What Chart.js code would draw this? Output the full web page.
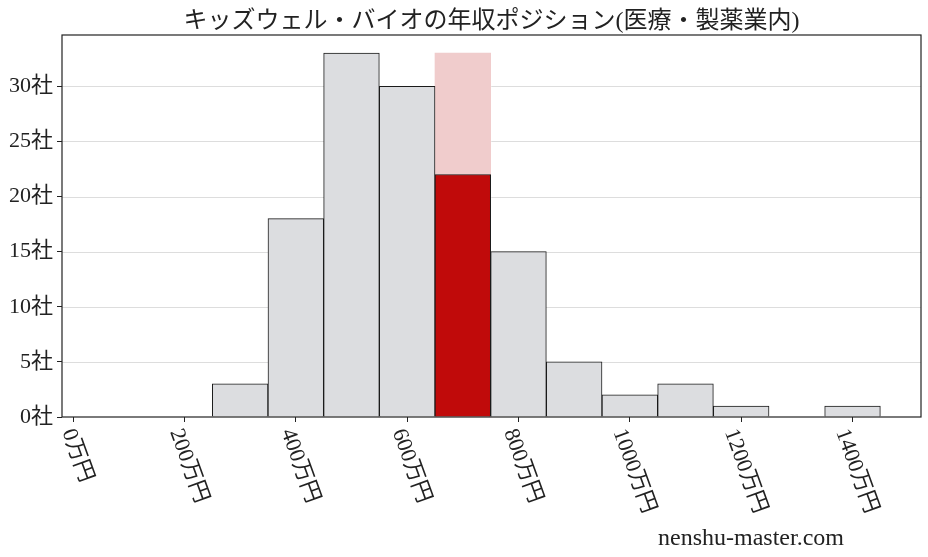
<!DOCTYPE html>
<html>
<head>
<meta charset="utf-8">
<script src="https://cdn.jsdelivr.net/npm/chart.js@4/dist/chart.umd.min.js"></script>
<style>
  body { margin: 0; background: #fff; }
</style>
</head>
<body>
<canvas id="myChart" width="928" height="557"></canvas>
<script>
// bin centres (万円), bin width 100
var binCenters = [0, 100, 200, 300, 400, 500, 600, 700, 800, 900, 1000, 1100, 1200, 1300, 1400];
var counts     = [0, 0, 0, 3, 18, 33, 30, 22, 15, 5, 2, 3, 1, 0, 1];
var highlightBin = 700;
var xTickValues = [0, 200, 400, 600, 800, 1000, 1200, 1400];
var yTickValues = [0, 5, 10, 15, 20, 25, 30];
var titleText = 'キッズウェル・バイオの年収ポジション(医療・製薬業内)';

var FONT = '"Liberation Serif", "DejaVu Serif", "Noto Sans CJK JP", serif';
var maxCount = Math.max.apply(null, counts);

var greyData = [], redData = [], pinkData = [];
binCenters.forEach(function (c, i) {
    if (c === highlightBin) {
        redData.push({x: c, y: counts[i]});
        pinkData.push({x: c, y: maxCount});
    } else {
        greyData.push({x: c, y: counts[i]});
    }
});

// grid, rotated x labels, border box, title, watermark
var decor = {
    id: 'decor',
    beforeDatasetsDraw: function (chart) {
        var a = chart.chartArea, ctx = chart.ctx;
        ctx.save();
        ctx.strokeStyle = '#dddddd';
        ctx.lineWidth = 1;
        yTickValues.forEach(function (v) {
            if (v === 0) return;
            var y = Math.round(chart.scales.y.getPixelForValue(v)) + 0.5;
            ctx.beginPath();
            ctx.moveTo(a.left, y);
            ctx.lineTo(a.right, y);
            ctx.stroke();
        });
        ctx.restore();
    },
    afterDraw: function (chart) {
        var a = chart.chartArea, ctx = chart.ctx, xs = chart.scales.x;
        ctx.save();
        ctx.strokeStyle = '#222';
        ctx.lineWidth = 1.2;
        ctx.strokeRect(a.left, a.top, a.right - a.left, a.bottom - a.top);

        ctx.fillStyle = '#222';
        ctx.font = '22px ' + FONT;
        var ang = 70 * Math.PI / 180;
        xTickValues.forEach(function (v) {
            var txt = v + '万円';
            var L = ctx.measureText(txt).width, h = 22;
            var x = xs.getPixelForValue(v);
            var top = a.bottom + 9;
            var cy = top + (L * Math.sin(ang) + h * Math.cos(ang)) / 2;
            ctx.save();
            ctx.translate(x + 4, cy);
            ctx.rotate(ang);
            ctx.textAlign = 'center';
            ctx.textBaseline = 'middle';
            ctx.fillText(txt, 0, 0);
            ctx.restore();
        });

        ctx.font = '24px ' + FONT;
        ctx.textAlign = 'center';
        ctx.textBaseline = 'alphabetic';
        ctx.fillText(titleText, (a.left + a.right) / 2, 28);

        ctx.font = '24px ' + FONT;
        ctx.fillText('nenshu-master.com', 751, 545);
        ctx.restore();
    }
};

var ctx = document.getElementById('myChart').getContext('2d');
var chart = new Chart(ctx, {
    type: 'bar',
    data: {
        datasets: [{
            data: greyData,
            backgroundColor: '#dcdde0',
            borderColor: '#1a1a1a',
            borderWidth: 1,
            grouped: false,
            order: 2
        }, {
            data: redData,
            backgroundColor: '#c00a0a',
            borderColor: '#1a1a1a',
            borderWidth: 1,
            grouped: false,
            order: 1
        }, {
            data: pinkData,
            backgroundColor: '#f0cccc',
            borderWidth: 0,
            grouped: false,
            order: 3
        }]
    },
    options: {
        responsive: false,
        animation: false,
        barPercentage: 1,
        categoryPercentage: 1,
        layout: { padding: { top: 35, right: 7, left: 0, bottom: 0 } },
        plugins: {
            legend: { display: false },
            tooltip: { enabled: false }
        },
        scales: {
            x: {
                type: 'linear',
                offset: false,
                min: -20,
                max: 1523,
                afterBuildTicks: function (s) {
                    s.ticks = xTickValues.map(function (v) { return {value: v}; });
                },
                afterFit: function (s) { s.height = 140; },
                border: { display: false },
                grid: { offset: false, drawOnChartArea: false, tickLength: 5, tickColor: '#222' },
                ticks: { color: 'rgba(0,0,0,0)', maxRotation: 0, font: { size: 20 } }
            },
            y: {
                min: 0,
                max: maxCount * 1.05,
                afterBuildTicks: function (s) {
                    s.ticks = yTickValues.map(function (v) { return {value: v}; });
                },
                afterFit: function (s) { s.width = 62; },
                border: { display: false },
                grid: { drawOnChartArea: false, tickLength: 5, tickColor: '#222' },
                ticks: {
                    color: '#222',
                    padding: 4,
                    font: { size: 22, family: FONT },
                    callback: function (v) { return v + '社'; }
                }
            }
        }
    },
    plugins: [decor]
});
</script>
</body>
</html>
